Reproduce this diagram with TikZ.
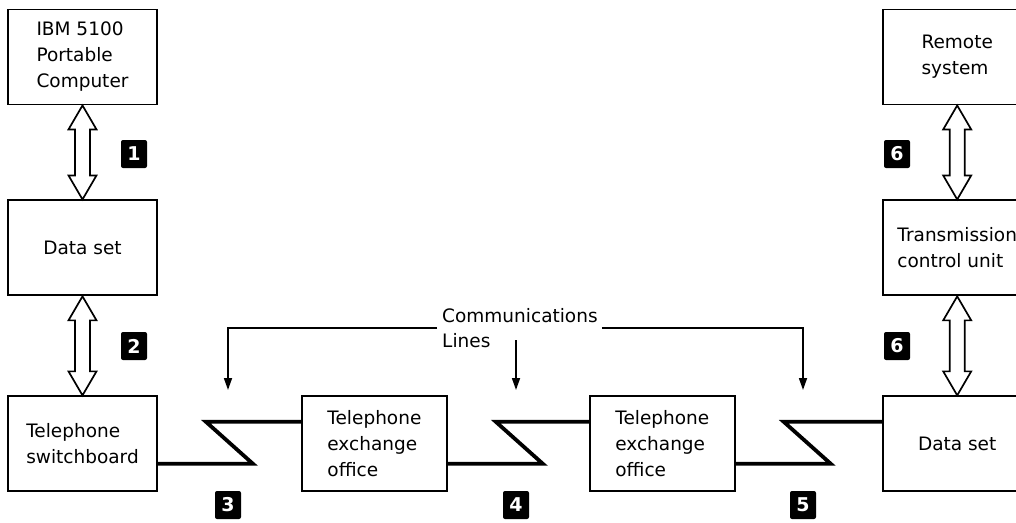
\documentclass[tikz,border=0pt]{standalone}
\usepackage{fontspec}
\setmainfont{DejaVu Sans}
\usetikzlibrary{positioning,arrows.meta,calc}

\newcommand{\linkarrow}[2]{%
  \draw[line width=1.7pt,fill=white] let \p1=(#1.south),\p2=(#2.north) in
    (\x1,\y1) -- (\x1+14pt,\y1-24pt) -- (\x1+7.5pt,\y1-24pt) -- (\x1+7.5pt,\y2+24pt)
    -- (\x1+14pt,\y2+24pt) -- (\x2,\y2) -- (\x1-14pt,\y2+24pt) -- (\x1-7.5pt,\y2+24pt)
    -- (\x1-7.5pt,\y1-24pt) -- (\x1-14pt,\y1-24pt) -- cycle;}

\begin{document}
\begin{tikzpicture}[x=1pt,y=-1pt]
	\tikzset{
		unit box/.style={draw,line width=1.9pt,minimum width=149pt,minimum height=95pt,
			inner sep=0pt,align=left,font=\fontsize{18.5}{26}\selectfont},
		exch box/.style={unit box,minimum width=145pt},
		badge/.style={fill=black,rounded corners=2pt,minimum width=26pt,minimum height=28pt,
			inner sep=0pt,text=white,font=\fontsize{19}{19}\selectfont\bfseries},
		zig line/.style={line width=3.8pt},
		comm line/.style={line width=1.7pt,-{Triangle[length=12pt,width=8pt]}},
		label text/.style={inner sep=0pt,font=\fontsize{18.5}{26}\selectfont}
	}
	\useasboundingbox (0,0) rectangle (1016,522);
	\clip (0,0) rectangle (1016,522);
	% left column
	\node(comp)[unit box] at (82.5,57){IBM 5100\\Portable\\Computer};
	\node(dsl)[unit box,below=94pt of comp]{Data set};
	\node(switch)[unit box,below=99pt of dsl]{Telephone\\switchboard};
	% bottom row
	\node(exch1)[exch box,right=143pt of switch]{Telephone\\exchange\\office};
	\node(exch2)[exch box,right=141pt of exch1]{Telephone\\exchange\\office};
	\node(dsr)[unit box,right=146pt of exch2]{Data set};
	% right column
	\node(tcu)[unit box,above=99pt of dsr]{Transmission\\control unit};
	\node(remote)[unit box,above=94pt of tcu]{Remote\\system};
	\linkarrow{comp}{dsl}
	\linkarrow{dsl}{switch}
	\linkarrow{remote}{tcu}
	\linkarrow{tcu}{dsr}
	\draw[zig line] ([yshift=-20pt]switch.east) -- ++(95,0) -- ++(-47,-42) -- ([yshift=22pt]exch1.west);
	\draw[zig line] ([yshift=-20pt]exch1.east) -- ++(95,0) -- ++(-47,-42) -- ([yshift=22pt]exch2.west);
	\draw[zig line] ([yshift=-20pt]exch2.east) -- ++(95,0) -- ++(-47,-42) -- ([yshift=22pt]dsr.west);
	% communications lines
	\node(comm)[label text,anchor=base west] at (442,322){Communications};
	\node(lines)[label text,anchor=base west] at (442,347){Lines};
	\coordinate(tip3) at (228,390);
	\coordinate(tip4) at (516,390);
	\coordinate(tip5) at (803,390);
	\draw[comm line] ([xshift=-5pt,yshift=-6pt]comm.base west) -| (tip3);
	\draw[comm line] ([xshift=4pt,yshift=-6pt]comm.base east) -| (tip5);
	\draw[comm line] (tip4 |- lines.center) -- (tip4);
	% reference marks
	\node(b1)[badge] at (134,154){1};
	\node(b2)[badge] at (134,346){2};
	\node(b3)[badge] at (228,505){3};
	\node(b4)[badge] at (516,505){4};
	\node(b5)[badge] at (803,505){5};
	\node(b6)[badge] at (897,154){6};
	\node(b7)[badge] at (897,346){6};
\end{tikzpicture}
\end{document}
